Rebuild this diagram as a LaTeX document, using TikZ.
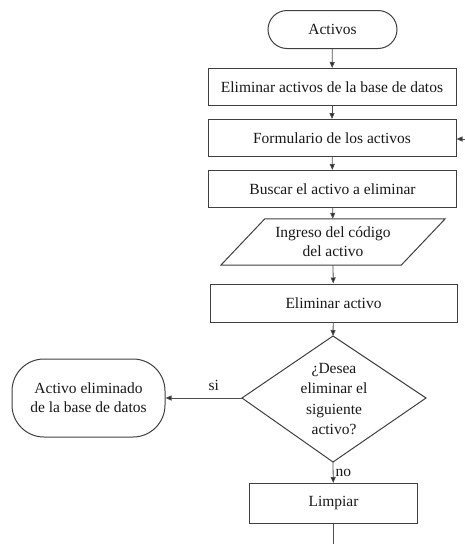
\documentclass[tikz,border=0pt]{standalone}
\usepackage{fontspec}
\setmainfont{Liberation Serif}
\usetikzlibrary{arrows.meta,calc}
\definecolor{edge}{HTML}{404040}
\definecolor{wire}{HTML}{505050}
\begin{document}
\begin{tikzpicture}[x=1pt,y=-1pt,
  every node/.style={font=\fontsize{15.5}{19}\selectfont, text=black!90},
  procbox/.style={draw=edge, line width=1pt, minimum width=248pt, minimum height=37pt, inner sep=0pt},
  termbox/.style={draw=edge, line width=1pt, rounded corners=19pt, inner sep=0pt},
  plain/.style={inner sep=0pt, align=center},
  shapeline/.style={draw=edge, line width=1pt},
  arr/.style={draw=wire, line width=0.8pt, -{Triangle[length=6pt,width=5pt,fill=black!85]}},
  lbl/.style={font=\fontsize{15.5}{19}\selectfont, inner sep=1pt}]
\useasboundingbox[fill=white] (0,0) rectangle (465,544);

% main column
\node[termbox, minimum width=129pt, minimum height=38pt] (start) at (332.5,29.5) {Activos};
\node[procbox] (b1) at (332,87) {Eliminar activos de la base de datos};
\node[procbox] (b2) at (332,138) {Formulario de los activos};
\node[procbox] (b3) at (332.5,189) {Buscar el activo a eliminar};

% input parallelogram
\node[plain, minimum width=180pt, minimum height=46pt] (io) at (333,242) {Ingreso del código\\del activo};
\path[shapeline] ($(io.south west)+(-22,0)$) -- ($(io.north west)+(22,0)$)
  -- ($(io.north east)+(22,0)$) -- ($(io.south east)+(-22,0)$) -- cycle;

\node[procbox, minimum width=247pt, minimum height=38pt] (b4) at (333.5,303) {Eliminar activo};

% decision diamond
\coordinate (dtop) at (333,336);
\coordinate (dleft) at (242,398);
\coordinate (dright) at (426,398);
\coordinate (dbot) at (333,462);
\path[shapeline] (dtop) -- (dright) -- (dbot) -- (dleft) -- cycle;
\node[plain, font=\fontsize{15.5}{20.5}\selectfont] (dec) at (334,399) {¿Desea\\eliminar el\\siguiente\\activo?};

% outcome terminal
\node[termbox, rounded corners=32pt, minimum width=153pt, minimum height=78pt, align=center] (done) at (88.5,398) {Activo eliminado\\de la base de datos};

\node[procbox, minimum width=168pt, minimum height=40pt] (clean) at (333.5,503.5) {Limpiar};

% connectors
\draw[arr] (start) -- (b1);
\draw[arr] (b1) -- (b2);
\draw[arr] (b2) -- (b3);
\draw[arr] (b3) -- (io);
\draw[arr] (io.south) -- (b4);
\draw[arr] (b4) -- (dtop);
\draw[arr] (dleft) -- node[lbl, above, yshift=6pt, xshift=10pt] {si} (done);
\draw[arr] (dbot) -- node[lbl, right, xshift=1pt] {no} (clean);

\coordinate (loopin) at (465,139);
\draw[arr] (loopin) -- (b2.east |- loopin);
\coordinate (tail) at (333.5,544);
\draw[draw=wire, line width=0.8pt] (clean) -- (tail);
\end{tikzpicture}
\end{document}
